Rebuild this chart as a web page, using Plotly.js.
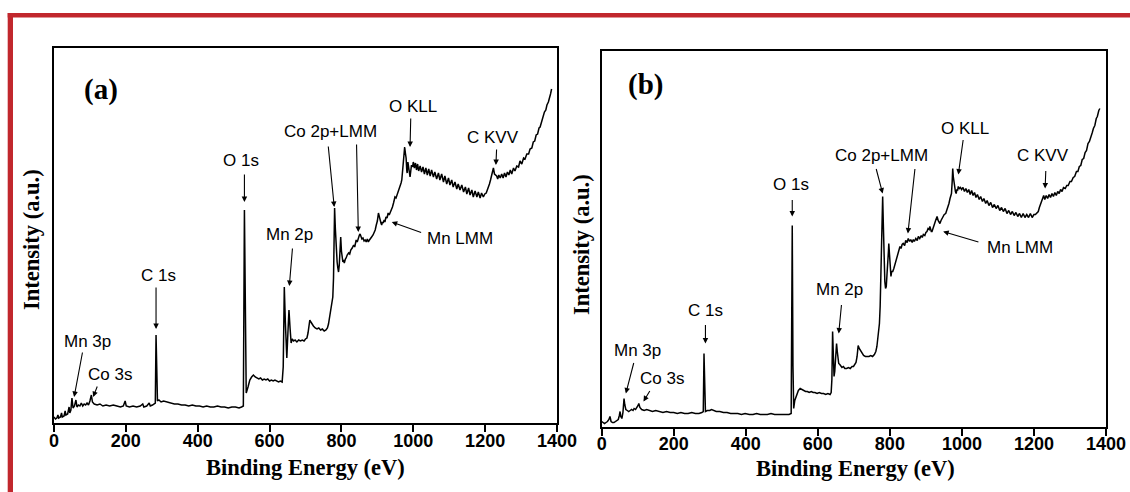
<!DOCTYPE html>
<html>
<head>
<meta charset="utf-8">
<script src="https://cdn.plot.ly/plotly-3.0.1.min.js"></script>
<style>html,body{margin:0;padding:0;background:#fff;}#chart{width:1130px;height:492px;}</style>
</head>
<body>
<div id="chart"></div>
<script>
// ---------- DATA ----------
const energyA = [0,4,8,11,13,18,21,23,28,31,33,38,42,44,47,50,53,57,61,64,68,72,76,80,84,88,92,96,100,104,107,112,120,128,136,145,155,165,175,185,193,198,201,210,220,230,240,247,250,258,265,268,274,279,282,284,286,288,292,298,305,315,325,335,345,355,365,375,385,395,405,415,425,435,445,455,465,475,485,495,505,515,522,527,530,532,535,540,545,550,555,560,565,570,575,580,585,590,595,600,605,610,615,620,625,630,635,638,641,644,646,648,651,654,657,660,663,667,671,676,681,686,691,696,700,704,707,710,712,715,718,722,727,732,737,742,747,752,757,761,764,767,770,773,776,778,780,781,783,785,788,790,792,794,796,798,800,802,804,806,808,811,813,816,820,823,826,830,834,837,841,844,847,850,852,855,857,860,863,866,869,872,875,878,881,884,888,891,894,897,900,903,905,907,910,912,914,916,919,921,924,927,930,933,937,940,942,945,947,949,952,955,958,961,964,966,968,970,972,974,976,978,980,982,983,985,987,989,991,993,995,998,1000,1003,1006,1009,1012,1015,1019,1023,1027,1031,1035,1039,1043,1047,1051,1056,1060,1065,1070,1074,1079,1084,1088,1093,1098,1102,1107,1111,1116,1121,1125,1130,1135,1140,1145,1149,1154,1158,1163,1167,1172,1177,1181,1186,1190,1195,1199,1203,1206,1209,1212,1215,1218,1221,1223,1226,1229,1232,1235,1238,1242,1246,1250,1254,1258,1262,1266,1270,1274,1279,1283,1288,1293,1297,1302,1307,1311,1316,1321,1325,1330,1334,1338,1342,1346,1350,1353,1357,1361,1365,1369,1372,1376,1379,1382,1385];
const intensityA = [6,4,5,8,5,6,10,6,7,12,8,9,16,10,13,25,15,17,23,16,18,17,20,17,19,18,20,18,22,28,21,19,18,19,17,18,17,18,17,16,17,22,17,16,17,16,17,19,16,17,20,17,18,19,20,88,30,22,23,21,22,21,20,19,19,18,18,17,18,17,17,16,17,16,16,17,16,16,15,16,16,15,16,17,213,90,30,36,43,46,48,46,45,44,45,43,44,43,44,42,43,42,43,42,41,42,41,56,136,100,80,65,90,113,95,80,84,82,83,81,83,82,83,82,84,85,90,98,103,101,99,97,95,94,95,93,94,92,93,95,99,105,112,118,126,145,190,215,195,176,161,155,151,158,175,186,172,165,161,163,160,164,165,168,170,169,173,175,178,176,183,181,186,188,189,186,184,185,182,183,181,184,181,183,184,186,188,190,193,198,202,210,206,203,200,198,201,200,203,201,206,205,210,208,211,214,216,220,223,226,225,228,230,233,236,240,243,250,260,268,276,270,265,252,250,261,255,250,246,252,258,256,261,255,260,253,259,252,257,251,256,249,255,248,254,247,253,246,251,244,250,243,249,241,247,239,245,238,243,236,241,234,239,233,238,231,236,229,235,228,233,226,232,226,231,225,230,226,229,230,233,234,239,243,249,252,255,249,248,247,244,248,245,249,245,250,246,251,248,253,249,255,252,257,256,262,259,265,264,269,269,274,275,281,282,288,289,295,296,302,305,311,313,318,321,327,329,334];

const energyB = [0,4,8,12,16,20,23,26,30,34,38,42,46,49,51,53,56,59,62,64,67,71,75,79,83,87,90,94,98,101,103,106,111,118,125,133,141,150,160,170,180,190,200,210,220,230,240,250,260,270,278,282,284,286,288,293,300,305,310,318,328,338,348,358,368,378,388,398,410,420,430,440,450,460,470,480,490,500,510,520,526,529,531,533,536,541,546,551,556,561,566,571,576,582,587,592,598,604,610,616,622,628,634,637,639,641,643,645,647,650,652,654,656,658,661,664,667,671,675,680,685,690,695,699,703,706,709,712,715,718,722,727,732,737,742,747,752,757,761,764,767,769,771,773,775,777,779,780,782,784,786,788,790,792,794,796,797,799,801,803,805,808,811,814,818,821,824,828,831,834,837,841,844,848,851,855,858,862,865,868,872,876,879,883,887,890,893,897,900,903,906,909,911,913,915,917,920,922,924,927,929,931,934,936,939,942,945,948,951,955,958,961,964,967,969,971,973,974.5,976,978,980,982,984,986,988,990,993,996,999,1003,1007,1011,1015,1019,1023,1027,1031,1035,1039,1043,1048,1052,1057,1061,1066,1070,1075,1080,1085,1090,1095,1100,1105,1110,1115,1120,1125,1130,1135,1140,1145,1150,1155,1160,1165,1170,1175,1180,1185,1190,1195,1200,1204,1208,1212,1215,1218,1221,1224,1227,1230,1234,1238,1242,1246,1250,1254,1258,1262,1266,1270,1274,1278,1282,1287,1291,1295,1300,1304,1309,1313,1318,1322,1326,1330,1334,1338,1342,1346,1350,1354,1358,1362,1365,1369,1373,1376,1380,1383];
const intensityB = [5,4,3,4,5,7,10,5,4,4,5,6,7,11,15,10,8,14,28,22,17,16,15,16,17,16,18,17,19,21,23,19,17,16,17,16,15,16,15,14,15,14,14,13,14,13,13,14,13,13,14,15,73,25,15,16,16,17,16,15,15,14,14,13,13,13,12,13,12,12,13,12,12,12,13,12,12,12,12,12,13,201,60,18,26,31,36,38,37,36,35,35,34,35,34,34,33,34,33,33,32,33,32,34,47,95,70,50,55,75,83,75,65,63,62,60,59,60,58,58,59,58,60,60,62,64,70,81,78,76,73,71,70,70,70,71,70,72,75,80,88,96,103,120,146,180,215,230,200,160,145,138,140,152,160,175,183,170,153,150,155,155,158,162,166,170,175,180,178,182,183,181,186,184,188,185,187,184,187,185,188,186,190,188,191,189,192,191,194,195,198,197,200,197,195,195,199,202,203,206,208,210,206,205,203,206,208,210,212,213,216,220,223,228,230,233,245,258,250,243,238,235,233,237,236,240,238,239,237,239,235,238,234,237,232,236,231,234,229,232,227,230,225,228,223,226,221,224,219,222,218,221,216,219,215,218,213,216,212,215,211,214,210,213,209,213,209,212,209,213,209,212,212,214,215,219,222,227,229,231,227,231,228,232,229,233,230,234,231,235,233,237,235,239,238,241,241,245,245,249,250,255,255,260,261,267,268,274,276,283,285,291,294,298,301,308,310,316,318];

const tickValues = [0,200,400,600,800,1000,1200,1400];
const tickLabels = ["0","200","400","600","800","1000","1200","1400"];
const peakLabels = ["Mn 3p","Co 3s","C 1s","O 1s","Mn 2p","Co 2p+LMM","O KLL","C KVV","Mn LMM"];
const panelLabels = ["(a)","(b)"];
const xTitle = "Binding Energy (eV)";
const yTitle = "Intensity (a.u.)";

// ---------- LAYOUT ----------
const W = 1130, H = 492;
const px = v => v / W;
const py = v => 1 - v / H;

// label positions (data coords) per panel: [textE, textI]
const labelPosA = [[92,82],[156,49],[290,148],[520,263],[655,189],[770,292],[1000,316],[1221,286],[1130,185]];
const labelPosB = [[99,76],[167,48],[288,116],[525,242],[660,137],[777,271],[1009,298],[1226,271],[1161,179]];
// arrows: [tailE, tailI, headE, headI]
const arrowsA = [[80,72,56,26],[122,38,109,26],[284,137,284,94],[530,250,530,221],[664,176,655,137],[763,278,780,216],[842,280,847,191],[993,306,991,276],[1232,275,1230,258],[1026,190,940,201]];
const arrowsB = [[90,65,67,33],[136,37,116,25],[288,103,288,83],[529,228,529,210],[666,123,658,93],[761,259,780,233],[870,259,850,193],[1004,288,990,252],[1233,257,1231,238],[1050,184,948,195]];

const lineStyle = {color:'#000', width:1.5};
const traces = [
  {x: energyA, y: intensityA, xaxis:'x', yaxis:'y', mode:'lines', line: lineStyle, hoverinfo:'skip'},
  {x: energyB, y: intensityB, xaxis:'x2', yaxis:'y2', mode:'lines', line: lineStyle, hoverinfo:'skip'}
];

const tickFont = {family:'Arial, "Liberation Sans", sans-serif', size:18, color:'#000', weight:'bold'};
function xAxis(dom, anchor){
  return {domain: dom, anchor: anchor, range:[0,1400], tickvals: tickValues, ticktext: tickLabels,
    ticks:'outside', ticklen:7, tickwidth:2, tickcolor:'#000', showline:true, mirror:true,
    linewidth:2, linecolor:'#000', showgrid:false, zeroline:false, tickfont: tickFont,
    ticklabelstandoff:-7, fixedrange:true};
}
function yAxis(dom, anchor, top){
  return {domain: dom, anchor: anchor, range:[0,top], showticklabels:false, ticks:'',
    showline:true, mirror:true, linewidth:2, linecolor:'#000', showgrid:false, zeroline:false, fixedrange:true};
}

const annFont = {family:'Arial, "Liberation Sans", sans-serif', size:17, color:'#000'};
const titleFont = {family:'"Times New Roman", "Liberation Serif", serif', size:22.5, color:'#000', weight:'bold'};
const panelFont = {family:'"Times New Roman", "Liberation Serif", serif', size:29, color:'#000', weight:'bold'};

const annotations = [];
function addPanel(xr, yr, labels, arrows){
  labels.forEach((p,i)=>annotations.push({xref:xr, yref:yr, x:p[0], y:p[1], text:peakLabels[i], showarrow:false, font:annFont, xanchor:'center', yanchor:'middle'}));
  arrows.forEach(a=>annotations.push({xref:xr, yref:yr, axref:xr, ayref:yr, x:a[2], y:a[3], ax:a[0], ay:a[1], text:'', showarrow:true, arrowhead:2, arrowsize:1, arrowwidth:1.1, arrowcolor:'#000', standoff:0, startstandoff:0}));
}
addPanel('x','y',labelPosA,arrowsA);
addPanel('x2','y2',labelPosB,arrowsB);

// panel labels and axis titles (paper coords)
annotations.push({xref:'paper', yref:'paper', x:px(101), y:py(90), text:panelLabels[0], showarrow:false, font:panelFont, xanchor:'center', yanchor:'middle'});
annotations.push({xref:'paper', yref:'paper', x:px(645), y:py(84), text:panelLabels[1], showarrow:false, font:panelFont, xanchor:'center', yanchor:'middle'});
annotations.push({xref:'paper', yref:'paper', x:px(305), y:py(467), text:xTitle, showarrow:false, font:titleFont, xanchor:'center', yanchor:'middle'});
annotations.push({xref:'paper', yref:'paper', x:px(855), y:py(468), text:xTitle, showarrow:false, font:titleFont, xanchor:'center', yanchor:'middle'});
annotations.push({xref:'paper', yref:'paper', x:px(31), y:py(240), text:yTitle, showarrow:false, font:titleFont, textangle:-90, xanchor:'center', yanchor:'middle'});
annotations.push({xref:'paper', yref:'paper', x:px(581), y:py(245), text:yTitle, showarrow:false, font:titleFont, textangle:-90, xanchor:'center', yanchor:'middle'});

const red = '#c1272d';
const layout = {
  width: W, height: H, margin:{l:0,r:0,t:0,b:0}, paper_bgcolor:'#fff', plot_bgcolor:'#fff', showlegend:false,
  xaxis: xAxis([px(54), px(557)], 'y'),
  yaxis: yAxis([py(423), py(48)], 'x', 375),
  xaxis2: xAxis([px(601.7), px(1106)], 'y2'),
  yaxis2: yAxis([py(426.5), py(51)], 'x2', 375.5),
  annotations: annotations,
  shapes: [
    {type:'rect', xref:'paper', yref:'paper', x0:px(7.7), x1:1, y0:py(17.5), y1:py(13), fillcolor:red, line:{width:0}, layer:'above'},
    {type:'rect', xref:'paper', yref:'paper', x0:px(7.7), x1:px(13), y0:0, y1:py(13), fillcolor:red, line:{width:0}, layer:'above'}
  ]
};
Plotly.newPlot('chart', traces, layout, {staticPlot:true, displayModeBar:false});
</script>
</body>
</html>
